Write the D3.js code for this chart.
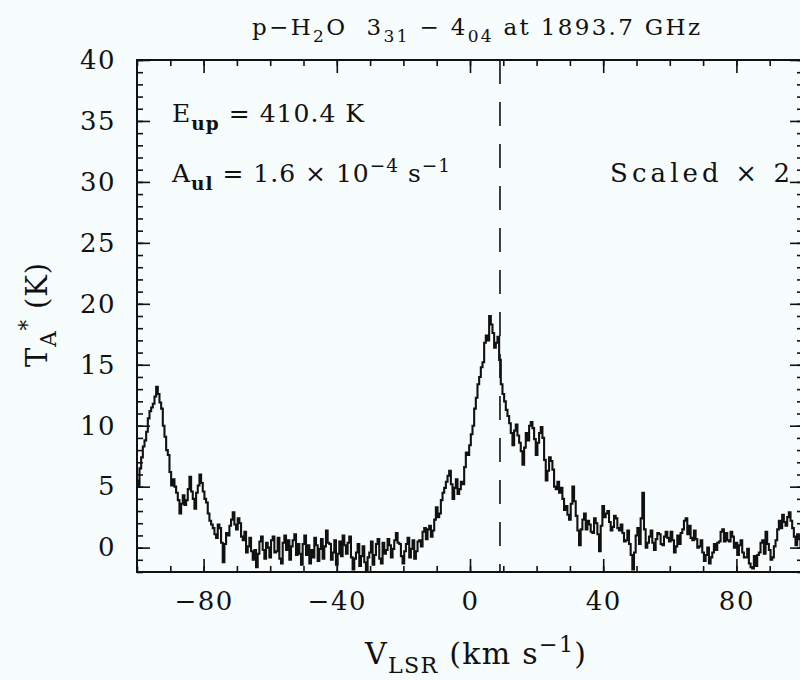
<!DOCTYPE html>
<html><head><meta charset="utf-8">
<script src="https://cdn.jsdelivr.net/npm/d3@7"></script>
<style>
html,body{margin:0;padding:0;background:#f7fcfd;}
svg{display:block;}
text{font-family:"DejaVu Serif","Liberation Serif",serif;fill:#111;}
</style></head>
<body>
<script>
// ---- data ----
const velStart = -100;   // km/s, first channel
const velStep = 0.5;     // km/s, channel width
const tempValues = [
 5.5, 5.0, 6.5, 7.4, 8.3, 8.8, 9.5, 10.6, 11.2, 11.5, 11.8, 12.4, 13.2, 12.6, 11.9, 11.4, 10.0, 9.1, 8.0, 7.6,      // -100..-90.5
 6.2, 5.1, 5.6, 5.0, 4.5, 3.9, 2.8, 3.6, 4.3, 3.5, 3.9, 4.8, 5.8, 4.6, 4.0, 3.2, 4.5, 5.1, 6.0, 5.3,                // -90..-80.5
 4.6, 4.0, 3.7, 2.8, 2.2, 1.9, 1.6, 1.1, 0.8, 1.9, 1.6, 0.4, -1.2, 0.3, 1.2, 1.0, 1.8, 2.3, 2.9, 1.9,               // -80..-70.5
 1.5, 2.4, 2.0, 0.9, 0.6, 1.3, -0.4, 0.1, 0.8, -0.3, -1.0, -0.2, -1.6, -0.5, 0.5, 0.9, -0.2, -0.9, 0.4, 0.0,        // -70..-60.5
 -0.8, 0.6, 0.9, -0.4, -0.3, 0.8, -0.9, -1.3, 0.4, 1.0, -0.2, 0.6, -1.0, 0.1, 0.6, 1.1, -0.6, 0.3, -0.5, -1.4,      // -60..-50.5
 0.3, 1.0, -0.6, 0.2, -1.3, -0.2, -0.8, 0.8, 0.2, -1.1, -0.1, 0.7, -0.9, 0.1, 1.4, 0.4, 0.3, -1.0, -0.4, 0.6,       // -50..-40.5
 -1.4, -0.5, 0.5, -0.7, 1.0, 0.2, -0.5, 0.4, 0.9, -0.8, -1.8, -0.9, -0.4, 0.3, -1.5, -0.7, 0.1, -1.2, -1.9, -0.8,   // -40..-30.5
 -0.4, 0.5, -1.4, -0.6, 0.3, 0.7, -0.9, -1.3, 0.4, -0.5, -0.2, 0.7, 0.2, -0.8, -0.1, 0.6, 1.2, 0.4, 0.3, -0.7,      // -30..-20.5
 -1.3, -0.3, 0.3, 0.8, -0.8, -0.1, 0.6, -0.9, -0.3, 0.5, 0.6, 0.1, 1.3, 1.6, 0.7, 1.5, 1.8, 0.9, 1.4, 2.3,          // -20..-10.5
 3.3, 2.5, 2.8, 3.9, 4.5, 4.9, 5.4, 5.9, 6.3, 5.2, 4.0, 4.9, 5.6, 4.4, 4.8, 5.4, 5.2, 6.6, 7.8, 7.6,                // -10..-0.5
 8.4, 9.3, 10.0, 11.4, 12.3, 13.4, 14.0, 14.8, 15.2, 16.8, 17.4, 17.0, 19.0, 18.3, 17.6, 16.4, 16.8, 17.3, 15.4, 13.4, // 0..9.5
 12.6, 12.0, 11.3, 10.8, 10.2, 9.4, 8.4, 9.6, 10.1, 9.2, 8.6, 7.9, 6.8, 8.2, 9.4, 8.8, 10.0, 10.3, 9.8, 8.9,       // 10..19.5
 7.6, 8.6, 9.4, 9.9, 9.0, 7.2, 5.5, 6.3, 7.4, 7.1, 6.4, 5.0, 4.8, 5.4, 4.5, 4.9, 4.0, 3.1, 3.4, 2.7,                // 20..29.5
 2.3, 3.6, 5.0, 3.8, 2.6, 1.4, 0.2, 1.5, 2.3, 2.8, 1.5, 2.2, 1.9, 1.3, 1.2, 2.4, 2.0, 1.1, -0.3, 1.8,               // 30..39.5
 3.4, 2.5, 2.8, 3.0, 2.1, 1.4, 1.7, 2.6, 2.4, 1.6, 1.4, 1.9, 1.2, 0.5, 0.6, 1.4, 0.3, -0.6, -1.8, -0.4,             // 40..49.5
 1.0, 1.6, 0.3, 2.4, 4.5, 1.5, 0.0, 0.4, 0.9, 1.4, 0.4, -0.2, 0.7, 1.2, 1.1, 0.3, 0.2, 0.9, 1.3, 0.8,               // 50..59.5
 0.5, 1.3, 0.6, -0.4, 0.1, 1.0, 0.3, 1.2, 1.5, 2.2, 2.4, 1.1, 1.8, 0.8, 0.6, 1.4, 0.7, 0.0, 0.1, 0.6,               // 60..69.5
 -0.4, -1.1, -0.6, 0.0, -1.3, -0.8, -0.4, 0.3, -0.2, 0.4, 0.5, 1.3, 1.5, 0.5, 1.2, 0.6, 0.5, 1.3, 0.9, 0.0,         // 70..79.5
 0.4, -0.6, 0.2, 0.6, -0.4, -0.8, -0.8, -0.1, -1.3, -1.6, -1.7, -0.7, -1.5, -0.6, -0.4, 0.4, 0.6, -0.5, 1.3, 0.3,   // 80..89.5
 -0.2, -1.0, -0.8, 0.1, 0.6, 1.5, 2.2, 1.6, 2.7, 2.1, 1.8, 2.5, 2.9, 2.2, 1.6, 0.9, 0.2, 1.1, 0.7, 0.0,             // 90..99.5
 0.5                                                                                                                // 100
];
const xDomain = [-100, 100];
const yDomain = [-2, 40];
const xTickLabels = [-80, -40, 0, 40, 80];
const xMinorTicks = d3.range(-100, 101, 10);
const yTickLabels = [0, 5, 10, 15, 20, 25, 30, 35, 40];
const yMinorTicks = d3.range(-2, 41, 1);
const vSource = 9;  // km/s, dashed line

const spectrum = tempValues.map((t, i) => ({v: velStart + i * velStep, t}));

// ---- layout ----
const W = 800, H = 680;
const M = {left: 137, top: 60, right: -3, bottom: 108};
const iw = W - M.left - M.right, ih = H - M.top - M.bottom;

const svg = d3.select("body").append("svg").attr("width", W).attr("height", H);
svg.append("rect").attr("width", W).attr("height", H).attr("fill", "#f7fcfd");

const x = d3.scaleLinear().domain(xDomain).range([0, iw]);
const y = d3.scaleLinear().domain(yDomain).range([ih, 0]);

const g = svg.append("g").attr("transform", `translate(${M.left},${M.top})`);
g.append("clipPath").attr("id", "clip").append("rect").attr("width", iw).attr("height", ih);

// spectrum
const line = d3.line().x(d => x(d.v)).y(d => y(d.t)).curve(d3.curveStep);
g.append("path").datum(spectrum)
  .attr("clip-path", "url(#clip)")
  .attr("fill", "none").attr("stroke", "#111").attr("stroke-width", 2.1)
  .attr("d", line);

// dashed line
g.append("line").attr("x1", x(vSource)).attr("x2", x(vSource))
  .attr("y1", 0).attr("y2", ih)
  .attr("stroke", "#111").attr("stroke-width", 1.6)
  .attr("stroke-dasharray", "24,18");

// axes
function styleAxis(sel) {
  sel.select(".domain").remove();
  sel.selectAll(".tick line").attr("stroke", "#111").attr("stroke-width", 1.6);
  sel.selectAll(".tick text").style("font-size", "26px").attr("fill", "#111")
     .style("letter-spacing", "1.5px")
     .style("font-family", '"DejaVu Serif","Liberation Serif",serif');
}
const fmt = d => (d < 0 ? "\u2212" + Math.abs(d) : "" + d);

g.append("g").attr("transform", `translate(0,${ih})`)
  .call(d3.axisBottom(x).tickValues(xMinorTicks).tickSize(-6).tickFormat(""))
  .call(styleAxis);
g.append("g").attr("transform", `translate(0,${ih})`)
  .call(d3.axisBottom(x).tickValues(xTickLabels).tickSize(-13).tickPadding(20).tickFormat(fmt))
  .call(styleAxis);
g.append("g")
  .call(d3.axisTop(x).tickValues(xMinorTicks).tickSize(-6).tickFormat(""))
  .call(styleAxis);
g.append("g")
  .call(d3.axisTop(x).tickValues(xTickLabels).tickSize(-13).tickFormat(""))
  .call(styleAxis);

g.append("g")
  .call(d3.axisLeft(y).tickValues(yMinorTicks).tickSize(-6).tickFormat(""))
  .call(styleAxis);
g.append("g")
  .call(d3.axisLeft(y).tickValues(yTickLabels).tickSize(-13).tickPadding(21).tickFormat(fmt))
  .call(styleAxis);
g.append("g").attr("transform", `translate(${iw},0)`)
  .call(d3.axisRight(y).tickValues(yMinorTicks).tickSize(-6).tickFormat(""))
  .call(styleAxis);
g.append("g").attr("transform", `translate(${iw},0)`)
  .call(d3.axisRight(y).tickValues(yTickLabels).tickSize(-13).tickFormat(""))
  .call(styleAxis);

// frame
g.append("rect").attr("width", iw).attr("height", ih)
  .attr("fill", "none").attr("stroke", "#111").attr("stroke-width", 2);

// ---- texts ----
function rich(parent, parts, attrs) {
  const t = parent.append("text");
  Object.entries(attrs).forEach(([k, v]) => t.attr(k, v));
  parts.forEach(p => {
    const s = t.append("tspan").text(p.t);
    if (p.sub) s.attr("baseline-shift", "-0.42em").style("font-size", "74%");
    if (p.sup) s.attr("baseline-shift", "0.55em").style("font-size", "74%");
    if (p.bold) s.style("font-weight", "bold");
  });
  return t;
}

// title
rich(svg, [
  {t: "p\u2212H"}, {t: "2", sub: true}, {t: "O  3"}, {t: "31", sub: true},
  {t: " \u2212 4"}, {t: "04", sub: true}, {t: " at 1893.7 GHz"}
], {x: 252, y: 35, "font-size": 23, textLength: 448, lengthAdjust: "spacing", "xml:space": "preserve"});

// annotations
rich(svg, [
  {t: "E"}, {t: "up", sub: true, bold: true}, {t: " = 410.4 K"}
], {x: 172, y: 122, "font-size": 25, textLength: 192, lengthAdjust: "spacing"});
rich(svg, [
  {t: "A"}, {t: "ul", sub: true, bold: true}, {t: " = 1.6 \u00d7 10"}, {t: "\u22124", sup: true},
  {t: " s"}, {t: "\u22121", sup: true}
], {x: 172, y: 182, "font-size": 25, textLength: 278, lengthAdjust: "spacing"});
rich(svg, [{t: "Scaled \u00d7 2"}], {x: 610, y: 182, "font-size": 26, textLength: 180, lengthAdjust: "spacing"});

// x label
rich(svg, [
  {t: "V"}, {t: "LSR", sub: true}, {t: " (km s"}, {t: "\u22121", sup: true}, {t: ")"}
], {x: 365, y: 664, "font-size": 30, textLength: 221, lengthAdjust: "spacing"});

// y label
rich(svg, [
  {t: "T"}, {t: "A", sub: true}, {t: "*", sup: true}, {t: " (K)"}
], {transform: "translate(47,367) rotate(-90)", "font-size": 29, textLength: 104, lengthAdjust: "spacing"});
</script>
</body></html>
